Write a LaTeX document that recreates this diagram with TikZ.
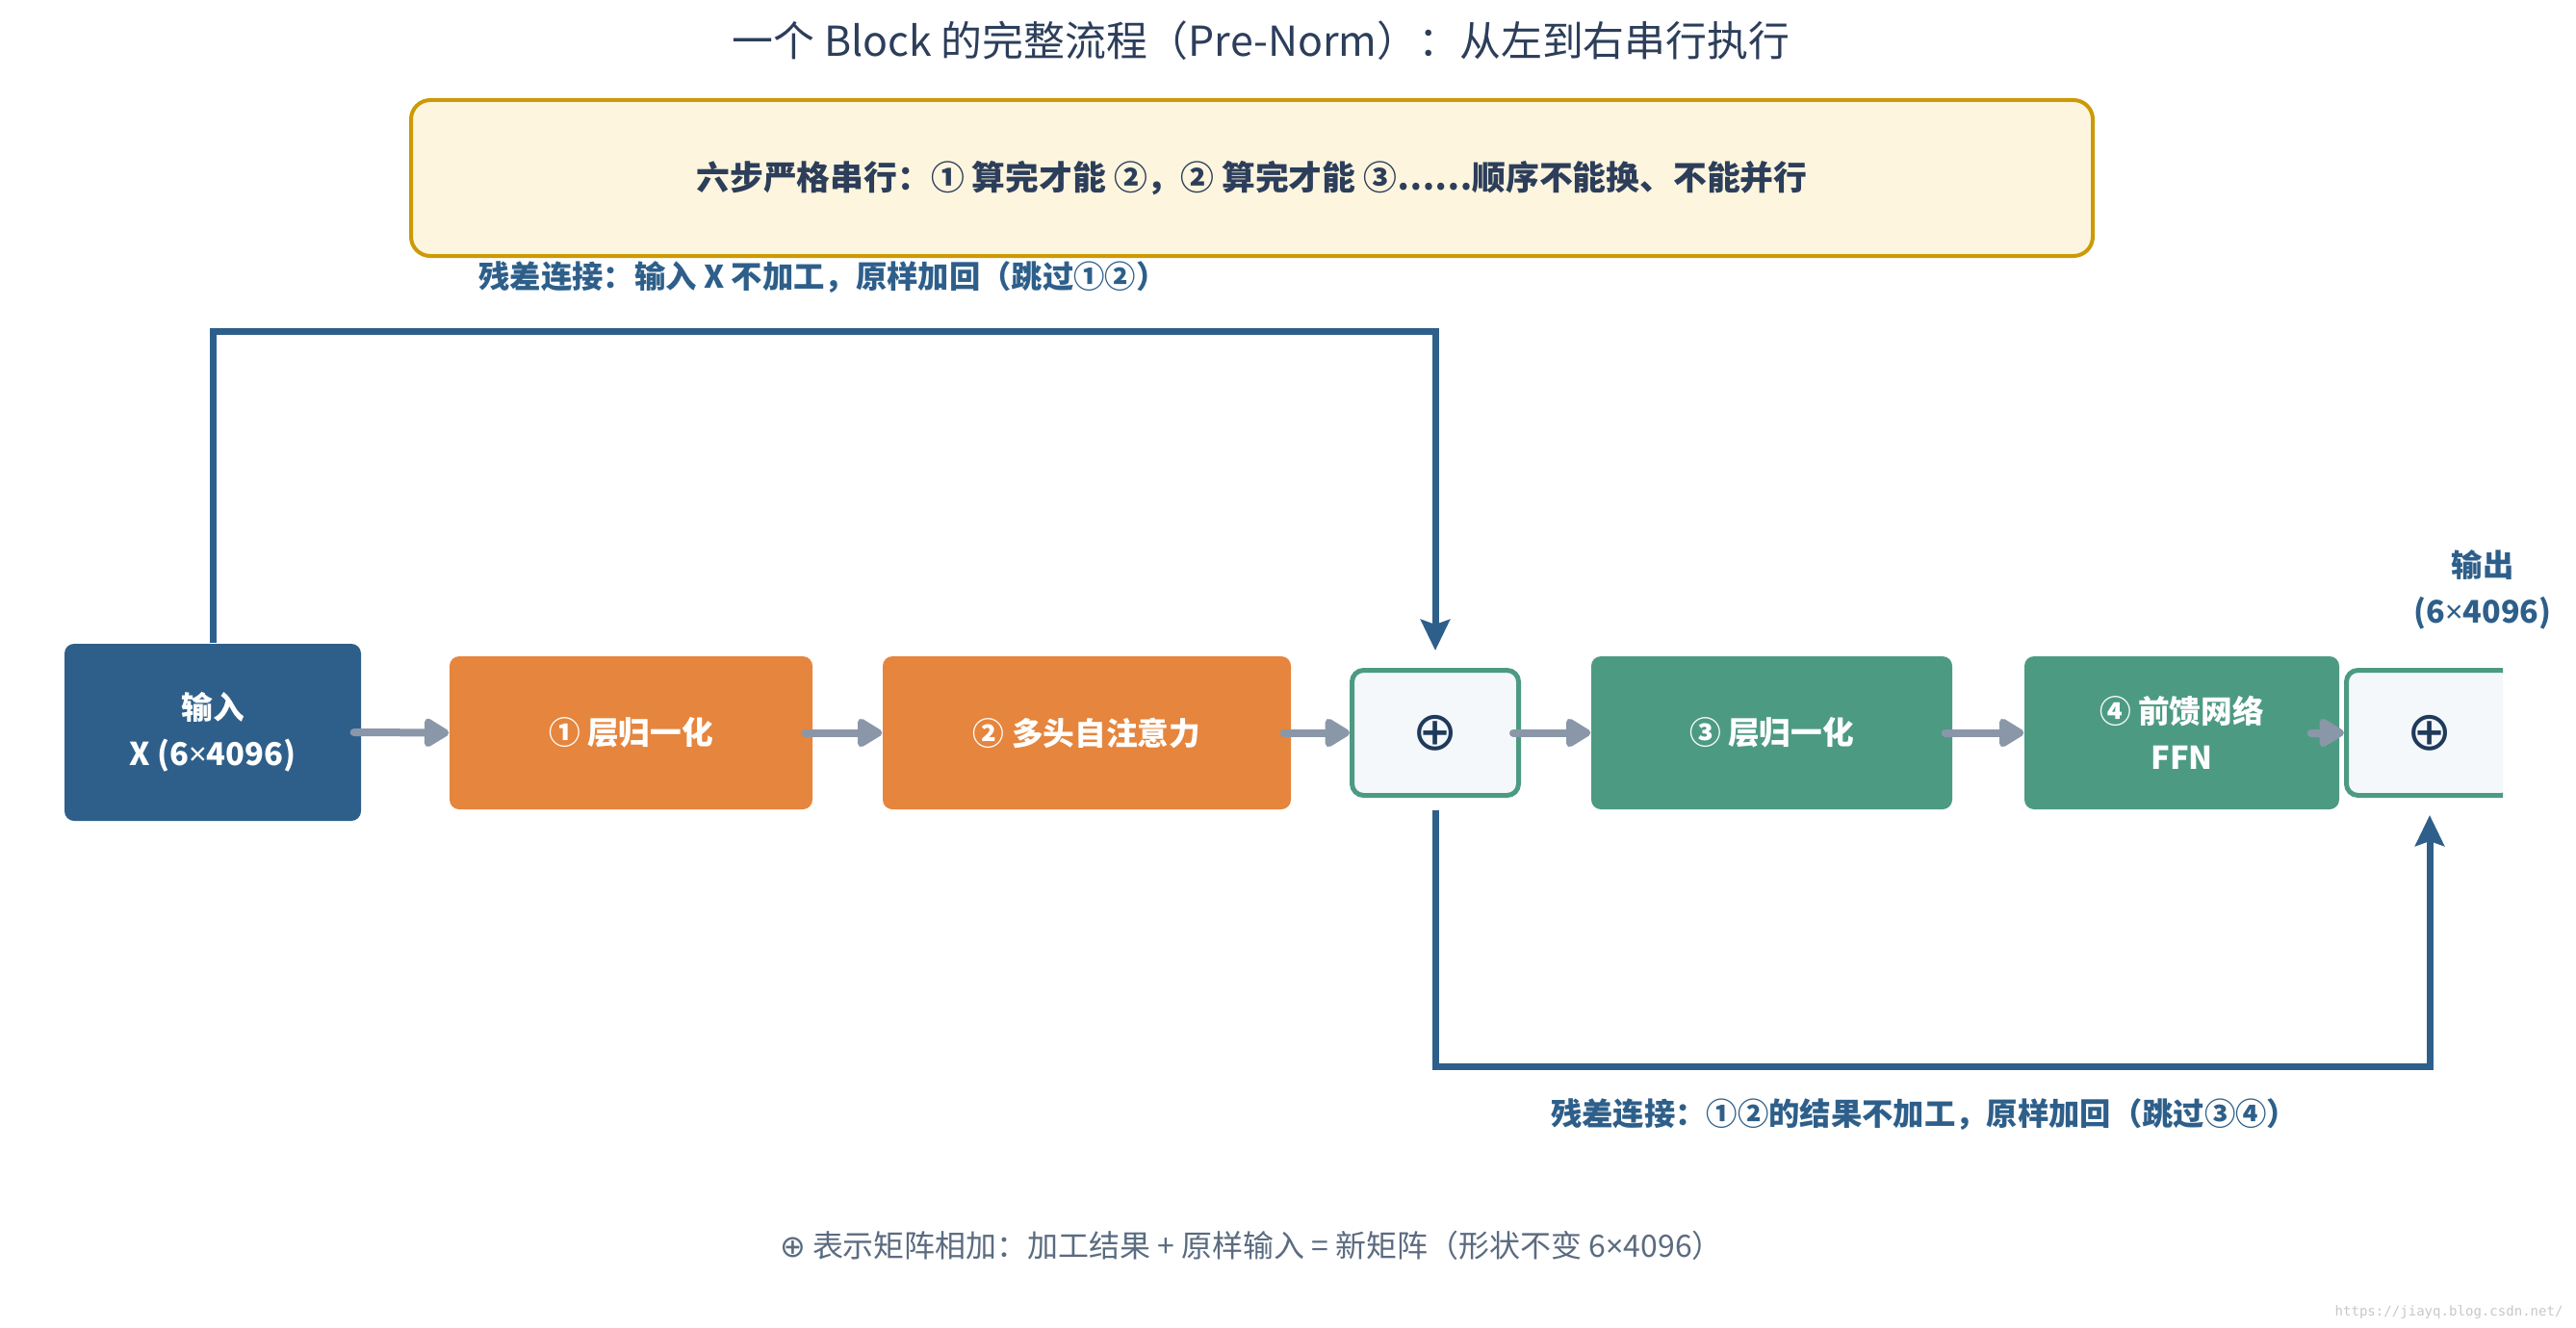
\documentclass[tikz,border=0pt]{standalone}
\usepackage{fontspec}
\setmainfont{Noto Sans CJK SC}
\newfontfamily\symbolfont{DejaVu Sans}
\newfontfamily\latinfont{Noto Sans}
\newfontfamily\urlfont{DejaVu Sans Mono}
\newcommand{\by}{{\latinfont ×}}
\usetikzlibrary{arrows.meta}
\usetikzlibrary{positioning}

\definecolor{titleink}{HTML}{2C3E5A}
\definecolor{skipblue}{HTML}{2E5F8A}
\definecolor{normorange}{HTML}{E6853D}
\definecolor{ffngreen}{HTML}{4D9A83}
\definecolor{flowgray}{HTML}{8A97A8}
\definecolor{sumfill}{HTML}{F4F8FB}
\definecolor{sumink}{HTML}{1F3A5A}
\definecolor{notefill}{HTML}{FDF5DE}
\definecolor{noteedge}{HTML}{CC9A06}
\definecolor{footgray}{HTML}{5B6B80}

\begin{document}
\begin{tikzpicture}[
    block/.style={rounded corners=0.1cm, inner sep=0pt, text=white, align=center,
      font=\fontsize{9.3}{13.7}\selectfont\bfseries, minimum height=1.59cm},
    sumbox/.style={draw=ffngreen, line width=0.05cm, fill=sumfill, rounded corners=0.12cm,
      minimum width=1.73cm, minimum height=1.30cm, inner sep=0pt, text=sumink,
      font=\fontsize{16}{16}\selectfont\symbolfont},
    flow/.style={draw=flowgray, line width=0.08cm, line cap=round,
      -{Triangle[length=0.29cm, width=0.33cm, round]}},
    skip/.style={draw=skipblue, line width=0.07cm,
      -{Stealth[length=0.32cm, width=0.3cm, inset=0.05cm]}},
    skiptext/.style={text=skipblue, font=\fontsize{9.2}{13.7}\selectfont\bfseries, align=center},
  ]
  \useasboundingbox (0,0) rectangle (26.76,-13.80);

  \node[text=titleink, font=\fontsize{12.2}{14}\selectfont] (title) at (13.10,-0.42)
    {一个 Block 的完整流程（Pre-Norm）：从左到右串行执行};
  \node[draw=noteedge, line width=0.04cm, fill=notefill, rounded corners=0.2cm,
    minimum width=17.47cm, minimum height=1.62cm, text=titleink,
    font=\fontsize{9.9}{12}\selectfont\bfseries] (rule) at (13.005,-1.85)
    {六步严格串行：① 算完才能 ②，② 算完才能 ③……顺序不能换、不能并行};

  % the six steps, left to right
  \node[block, fill=skipblue, minimum width=3.08cm, minimum height=1.84cm] (in) at (2.21,-7.61)
    {输入\\X (6\by4096)};
  \node[block, fill=normorange, minimum width=3.77cm] (n1) at (6.555,-7.615) {① 层归一化};
  \node[block, fill=normorange, minimum width=4.24cm] (n2) at (11.29,-7.615) {② 多头自注意力};
  \node[sumbox] (sum1) at (14.91,-7.615) {⊕};
  \node[block, fill=ffngreen, minimum width=3.75cm] (n3) at (18.405,-7.615) {③ 层归一化};
  \node[block, fill=ffngreen, minimum width=3.27cm] (n4) at (22.665,-7.615) {④ 前馈网络\\FFN};
  \begin{scope}
    \clip (0,0) rectangle (26.00,-13.80);
    \node[sumbox] (sum2) at (25.24,-7.615) {⊕};
  \end{scope}

  \draw[flow] ([xshift=-0.08cm]in.east) -- (n1.west);
  \draw[flow] ([xshift=-0.08cm]n1.east) -- (n2.west);
  \draw[flow] ([xshift=-0.08cm]n2.east) -- (sum1.west);
  \draw[flow] ([xshift=-0.08cm]sum1.east) -- (n3.west);
  \draw[flow] ([xshift=-0.08cm]n3.east) -- (n4.west);
  \draw[flow] ([xshift=-0.3cm]n4.east) -- (sum2.west);

  % residual connections
  \draw[skip] (in.north) -- ++(0,3.24) -| ([yshift=0.18cm]sum1.north);
  \draw[skip] ([yshift=-0.13cm]sum1.south) -- ++(0,-2.66) -| ([yshift=-0.18cm]sum2.south);

  \node[skiptext] (skip1) at (8.55,-2.88) {残差连接：输入 X 不加工，原样加回（跳过①②）};
  \node[skiptext] (skip2) at (19.99,-11.58) {残差连接：①②的结果不加工，原样加回（跳过③④）};
  \node[skiptext] (out) at (25.79,-6.13) {输出\\(6\by4096)};

  \node[text=footgray, font=\fontsize{9.1}{12}\selectfont] (foot) at (13.00,-12.94)
    {{\symbolfont ⊕} 表示矩阵相加：加工结果 + 原样输入 = 新矩阵（形状不变 6\by4096）};
  \node[text=black!22, font=\fontsize{4}{5}\selectfont\urlfont, anchor=east] (mark) at (26.75,-13.64)
    {https://jiayq.blog.csdn.net/};
\end{tikzpicture}
\end{document}
